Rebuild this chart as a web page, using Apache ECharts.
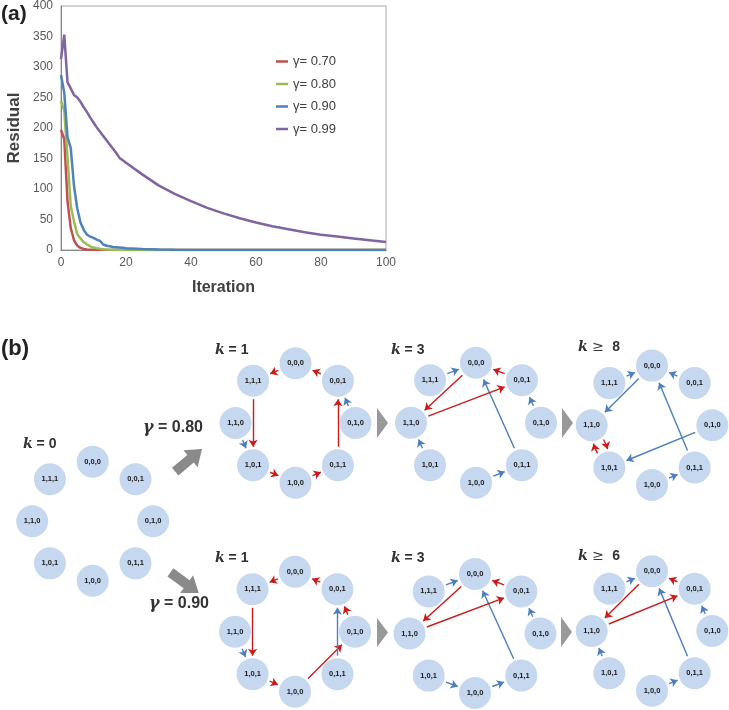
<!DOCTYPE html>
<html><head><meta charset="utf-8">
<script src="https://cdn.jsdelivr.net/npm/echarts@6/dist/echarts.min.js"></script>
<style>html,body{margin:0;padding:0;background:#fff}#c{width:729px;height:710px}</style>
</head><body><div id="c"></div>
<script>
// ---------- (a) residual curves ----------
const iterations = [0,1,2,3,4,5,6,7,8,9,10,11,12,13,14,15,16,17,18,19,20,25,30,35,40,45,50,55,60,65,70,75,80,85,90,95,100];
const residual070 = [197,182,80,36,16,7,3.5,1.8,1,0.5,0.3,0.2,0.1,0,0,0,0,0,0,0,0,0,0,0,0,0,0,0,0,0,0,0,0,0,0,0,0];
const residual080 = [245,228,152,72,47,26,19,13,9,6,4,3,2,1.3,0.9,0.6,0.4,0.3,0.2,0.1,0.1,0,0,0,0,0,0,0,0,0,0,0,0,0,0,0,0];
const residual090 = [287,258,185,167,105,68,45,33,25,22,20,17,15,9,7,6,5,4.5,4,3.5,3,1.5,0.7,0.3,0.1,0,0,0,0,0,0,0,0,0,0,0,0];
const residual099 = [313,353,275,265,254,250,243,234,226,217,209,201,194,187,180,173,166,159,151,147,143,124,106,92,80,69,60,52,45,39,34,29,25,22,19,16,13];
const seriesNames = ['γ= 0.70','γ= 0.80','γ= 0.90','γ= 0.99'];
const seriesColors = ['#c0504d','#9bbb59','#4f81bd','#8064a2'];
const xAxisMin = 0, xAxisMax = 100, xAxisStep = 20;
const yAxisMin = 0, yAxisMax = 400, yAxisStep = 50;

// ---------- (b) policy graphs ----------
// states in clockwise order starting from the top of each ring
const stateRing = ['0,0,0','0,0,1','0,1,0','0,1,1','1,0,0','1,0,1','1,1,0','1,1,1'];
const panelTitles = ['k = 0','k = 1','k = 3','k ≥ 8','k = 1','k = 3','k ≥ 6'];
const gammaLabels = ['γ = 0.80','γ = 0.90'];
// edges: [from, to, kind]  r = red, b = blue
const edgesK0 = [];
const edges080K1 = [['0,0,0','1,1,1','r'],['1,1,1','1,0,1','r'],['1,0,1','1,0,0','r'],['1,0,0','0,1,1','r'],['0,1,1','0,0,1','r'],['0,0,1','0,0,0','r'],['1,1,0','1,0,1','b'],['0,1,0','0,0,1','b']];
const edges080K3 = [['1,1,1','0,0,0','b'],['0,1,1','0,0,0','b'],['0,1,0','0,0,1','b'],['1,0,1','1,1,0','b'],['1,0,0','0,1,1','b'],['0,0,0','1,1,0','r'],['1,1,0','0,0,1','r'],['0,0,1','0,0,0','r']];
const edges080K8 = [['1,1,1','0,0,0','b'],['0,0,1','0,0,0','b'],['0,0,0','1,1,0','b'],['0,1,1','0,0,0','b'],['0,1,0','1,0,1','b'],['1,0,0','0,1,1','b'],['1,1,0','1,0,1','r2'],['1,0,1','1,1,0','r2']];
const edges090K1 = [['0,0,0','1,1,1','r'],['1,1,1','1,0,1','r'],['1,0,1','1,0,0','r'],['1,0,0','0,1,0','r'],['0,1,0','0,0,1','r'],['0,0,1','0,0,0','r'],['1,1,0','1,0,1','b'],['0,1,1','0,0,1','b']];
const edges090K3 = [['1,1,1','0,0,0','b'],['0,1,1','0,0,0','b'],['0,1,0','0,0,1','b'],['1,0,1','1,0,0','b'],['1,0,0','0,1,1','b'],['0,0,0','1,1,0','r'],['1,1,0','0,0,1','r'],['0,0,1','0,0,0','r']];
const edges090K6 = [['1,1,1','0,0,0','b'],['0,1,1','0,0,0','b'],['0,1,0','0,0,1','b'],['1,0,1','1,1,0','b'],['1,0,0','0,1,1','b'],['0,0,0','1,1,0','r'],['1,1,0','0,0,1','r'],['0,0,1','0,0,0','r']];
const panelEdges = [edgesK0, edges080K1, edges080K3, edges080K8, edges090K1, edges090K3, edges090K6];

// ---------- layout (pixels) ----------
const panelLayout = [
  {cx:92.7, cy:521.3, rx:60.5, ry:59.5, tx:23,  ty:444},
  {cx:295.5,cy:423,   rx:60,   ry:59.7, tx:215, ty:350},
  {cx:476,  cy:422.7, rx:65,   ry:60,   tx:391, ty:350},
  {cx:652,  cy:425.3, rx:60.3, ry:59.7, tx:578, ty:347},
  {cx:295,  cy:631.7, rx:60,   ry:60,   tx:215, ty:558},
  {cx:475,  cy:633.5, rx:65.5, ry:59.5, tx:391, ty:558},
  {cx:652,  cy:631,   rx:60.3, ry:59.7, tx:578, ty:556}
];
const edgeColor = {r:'#cc1a1a', r2:'#cc1a1a', b:'#4a7ec0'};
const nodeColor = '#c6d8f0';

function ringPos(p, slot){
  const a = slot*Math.PI/4;
  return [p.cx + p.rx*Math.sin(a), p.cy - p.ry*Math.cos(a)];
}

const series = [];
seriesNames.forEach((nm,i)=>{
  const vals = [residual070,residual080,residual090,residual099][i];
  series.push({
    name:nm, type:'line', xAxisIndex:0, yAxisIndex:0, symbol:'none', smooth:false,
    lineStyle:{width:2.5,color:seriesColors[i]}, itemStyle:{color:seriesColors[i]},
    data: iterations.map((x,j)=>[x, vals[j]]), z:3
  });
});

const nodeScatter = [];
panelLayout.forEach((p,pi)=>{
  const nodes = stateRing.map((s,slot)=>{ const xy = ringPos(p,slot); return {name:s, value:xy}; });
  nodes.forEach(n=>nodeScatter.push({name:n.name, value:n.value}));
  series.push({
    type:'graph', coordinateSystem:'cartesian2d', xAxisIndex:1, yAxisIndex:1,
    symbol:'circle', symbolSize:37, itemStyle:{opacity:0}, label:{show:false},
    edgeSymbol:['circle','arrow'], edgeSymbolSize:[0.01,7], silent:true, animation:false,
    data: nodes,
    links: panelEdges[pi].map(e=>({source:e[0], target:e[1],
      lineStyle:{color:edgeColor[e[2]], width:1.4, opacity:1, curveness: e[2]==='r2'?0.25:0}})),
    z:2
  });
});
series.push({
  type:'scatter', xAxisIndex:1, yAxisIndex:1, symbol:'circle', symbolSize:32,
  itemStyle:{color:nodeColor, opacity:1}, silent:true, animation:false,
  label:{show:true, position:'inside', formatter:'{b}', fontSize:7.5, fontWeight:'bold', color:'#1a1a1a', fontFamily:'Liberation Sans'},
  data: nodeScatter, z:4
});

// decorations
const graphic = [];
graphic.push({type:'text', x:1, y:14, style:{text:'(a)', font:'bold 21px "Liberation Sans"', fill:'#222', verticalAlign:'middle'}, z:10});
graphic.push({type:'text', x:1, y:349, style:{text:'(b)', font:'bold 22px "Liberation Sans"', fill:'#222', verticalAlign:'middle'}, z:10});
const kRich = {k:{fontFamily:'DejaVu Serif', fontStyle:'italic', fontWeight:'bold', fontSize:14, fill:'#333'},
               t:{fontFamily:'Liberation Sans', fontWeight:'bold', fontSize:14, fill:'#333'},
               g:{fontFamily:'DejaVu Serif', fontSize:14, fill:'#333'}};
panelLayout.forEach((p,pi)=>{
  const t = panelTitles[pi];
  let s;
  if (t.indexOf('≥')>=0) s = '{k|k}{g| ≥ }{t| ' + t.split('≥')[1].trim() + '}';
  else s = '{k|k}{t|' + t.slice(1) + '}';
  graphic.push({type:'text', x:p.tx, y:p.ty, style:{text:s, rich:kRich, verticalAlign:'middle'}, z:10});
});
const gRich = {g:{fontFamily:'DejaVu Serif', fontStyle:'italic', fontWeight:'bold', fontSize:16, fill:'#333'},
               t:{fontFamily:'Liberation Sans', fontWeight:'bold', fontSize:16, fill:'#333'}};
[[143,427.5],[149,604]].forEach((pos,i)=>{
  graphic.push({type:'text', x:pos[0], y:pos[1], style:{text:'{g|γ}{t|' + gammaLabels[i].slice(1) + '}', rich:gRich, verticalAlign:'middle'}, z:10});
});
function blockArrow(cx, cy, ang){
  const pts = [[-18,-5],[2,-5],[2,-11],[17,0],[2,11],[2,5],[-18,5]];
  const c = Math.cos(ang), s = Math.sin(ang);
  return {type:'polygon', shape:{points: pts.map(q=>[cx + q[0]*c - q[1]*s, cy + q[0]*s + q[1]*c])}, style:{fill:'#8a8a8a'}, z:10};
}
graphic.push(blockArrow(189, 460, -40*Math.PI/180));
graphic.push(blockArrow(185, 583, 36*Math.PI/180));
[[377,408,423,438,388],[562,408,423,438,573],[377,618,632.5,647,388],[561,617,632,647,572]].forEach(t=>{
  graphic.push({type:'polygon', shape:{points:[[t[0],t[1]],[t[4],t[2]],[t[0],t[3]]]}, style:{fill:'#999'}, z:10});
});

const option = {
  animation:false,
  backgroundColor:'#fff',
  textStyle:{fontFamily:'Liberation Sans'},
  legend:{
    data:seriesNames, orient:'vertical', left:271, top:50, itemWidth:12, itemHeight:2.5, itemGap:9.5,
    icon:'rect', textStyle:{fontSize:13, color:'#404040', fontFamily:'Liberation Sans'}
  },
  grid:[
    {left:61, top:6, width:325, height:244, show:true, borderColor:'#c8c8c8', borderWidth:1.5, backgroundColor:'transparent'},
    {left:0, top:0, width:729, height:710, show:false}
  ],
  xAxis:[
    {type:'value', gridIndex:0, min:xAxisMin, max:xAxisMax, interval:xAxisStep,
     axisLine:{show:true, lineStyle:{color:'#868686', width:1}}, axisTick:{show:false}, splitLine:{show:false},
     axisLabel:{fontSize:12, color:'#595959', margin:7},
     name:'Iteration', nameLocation:'middle', nameGap:30, nameTextStyle:{fontSize:16, fontWeight:'bold', color:'#404040'}},
    {type:'value', gridIndex:1, min:0, max:729, show:false}
  ],
  yAxis:[
    {type:'value', gridIndex:0, min:yAxisMin, max:yAxisMax, interval:yAxisStep,
     axisLine:{show:true, lineStyle:{color:'#868686', width:1}}, axisTick:{show:false}, splitLine:{show:false},
     axisLabel:{fontSize:12, color:'#595959', margin:8},
     name:'Residual', nameLocation:'middle', nameGap:38, nameTextStyle:{fontSize:17, fontWeight:'bold', color:'#404040'}},
    {type:'value', gridIndex:1, min:0, max:710, inverse:true, show:false}
  ],
  series,
  graphic
};
const chart = echarts.init(document.getElementById('c'), null, {renderer:'canvas'});
chart.setOption(option);
</script></body></html>
